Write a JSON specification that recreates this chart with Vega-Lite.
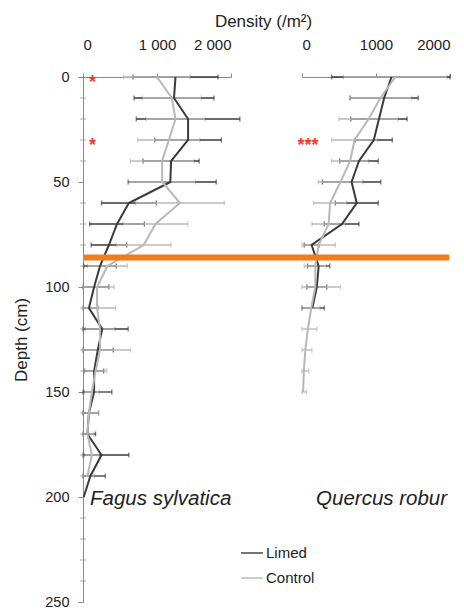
{
  "$schema": "https://vega.github.io/schema/vega-lite/v6.json",
  "background": "white",
  "padding": {"left": 12, "top": 13, "right": 0, "bottom": 0},
  "title": {"text": "Density (/m²)", "fontSize": 17, "font": "Liberation Sans", "fontWeight": "normal", "color": "#222", "anchor": "middle", "dx": 31, "offset": 6},
  "datasets": {
    "fagus": [
      {"depth": 0, "treatment": "Limed", "mean": 1250, "lo": 675, "hi": 1825},
      {"depth": 10, "treatment": "Limed", "mean": 1230, "lo": 690, "hi": 1770},
      {"depth": 20, "treatment": "Limed", "mean": 1420, "lo": 720, "hi": 2120},
      {"depth": 30, "treatment": "Limed", "mean": 1420, "lo": 970, "hi": 1870},
      {"depth": 40, "treatment": "Limed", "mean": 1190, "lo": 810, "hi": 1570},
      {"depth": 50, "treatment": "Limed", "mean": 1180, "lo": 610, "hi": 1800},
      {"depth": 60, "treatment": "Limed", "mean": 620, "lo": 250, "hi": 990},
      {"depth": 70, "treatment": "Limed", "mean": 460, "lo": 90, "hi": 830},
      {"depth": 80, "treatment": "Limed", "mean": 350, "lo": 110, "hi": 590},
      {"depth": 90, "treatment": "Limed", "mean": 230, "lo": 10, "hi": 450},
      {"depth": 100, "treatment": "Limed", "mean": 150, "lo": 0, "hi": 350},
      {"depth": 110, "treatment": "Limed", "mean": 80, "lo": 0, "hi": 200},
      {"depth": 120, "treatment": "Limed", "mean": 260, "lo": 0, "hi": 610},
      {"depth": 130, "treatment": "Limed", "mean": 200, "lo": 0, "hi": 410},
      {"depth": 140, "treatment": "Limed", "mean": 150, "lo": 20, "hi": 280},
      {"depth": 150, "treatment": "Limed", "mean": 150, "lo": 0, "hi": 390},
      {"depth": 160, "treatment": "Limed", "mean": 80, "lo": 0, "hi": 210},
      {"depth": 170, "treatment": "Limed", "mean": 60, "lo": 0, "hi": 170},
      {"depth": 180, "treatment": "Limed", "mean": 250, "lo": 0, "hi": 620},
      {"depth": 190, "treatment": "Limed", "mean": 100, "lo": 0, "hi": 300},
      {"depth": 200, "treatment": "Limed", "mean": 10, "lo": null, "hi": null},
      {"depth": 0, "treatment": "Control", "mean": 1000, "lo": 550, "hi": 1450},
      {"depth": 10, "treatment": "Control", "mean": 1200, "lo": 800, "hi": 1600},
      {"depth": 20, "treatment": "Control", "mean": 1250, "lo": 850, "hi": 1650},
      {"depth": 30, "treatment": "Control", "mean": 1160, "lo": 740, "hi": 1580},
      {"depth": 40, "treatment": "Control", "mean": 1070, "lo": 640, "hi": 1500},
      {"depth": 50, "treatment": "Control", "mean": 1070, "lo": 620, "hi": 1520},
      {"depth": 60, "treatment": "Control", "mean": 1310, "lo": 710, "hi": 1910},
      {"depth": 70, "treatment": "Control", "mean": 980, "lo": 540, "hi": 1420},
      {"depth": 80, "treatment": "Control", "mean": 820, "lo": 450, "hi": 1190},
      {"depth": 90, "treatment": "Control", "mean": 330, "lo": 60, "hi": 600},
      {"depth": 100, "treatment": "Control", "mean": 190, "lo": 0, "hi": 420},
      {"depth": 110, "treatment": "Control", "mean": 190, "lo": 0, "hi": 440},
      {"depth": 120, "treatment": "Control", "mean": 230, "lo": 30, "hi": 430},
      {"depth": 130, "treatment": "Control", "mean": 230, "lo": 0, "hi": 640},
      {"depth": 140, "treatment": "Control", "mean": 170, "lo": 20, "hi": 320},
      {"depth": 150, "treatment": "Control", "mean": 120, "lo": 20, "hi": 220},
      {"depth": 160, "treatment": "Control", "mean": 80, "lo": 0, "hi": 210},
      {"depth": 170, "treatment": "Control", "mean": 60, "lo": 0, "hi": 150},
      {"depth": 180, "treatment": "Control", "mean": 120, "lo": 20, "hi": 220},
      {"depth": 190, "treatment": "Control", "mean": 60, "lo": 0, "hi": 150}
    ],
    "quercus": [
      {"depth": 0, "treatment": "Limed", "mean": 1210, "lo": 400, "hi": 2000},
      {"depth": 10, "treatment": "Limed", "mean": 1110, "lo": 650, "hi": 1570},
      {"depth": 20, "treatment": "Limed", "mean": 1040, "lo": 660, "hi": 1420},
      {"depth": 30, "treatment": "Limed", "mean": 970, "lo": 720, "hi": 1220},
      {"depth": 40, "treatment": "Limed", "mean": 770, "lo": 510, "hi": 1030},
      {"depth": 50, "treatment": "Limed", "mean": 670, "lo": 275, "hi": 1065},
      {"depth": 60, "treatment": "Limed", "mean": 740, "lo": 450, "hi": 1030},
      {"depth": 70, "treatment": "Limed", "mean": 540, "lo": 300, "hi": 770},
      {"depth": 80, "treatment": "Limed", "mean": 130, "lo": 30, "hi": 230},
      {"depth": 90, "treatment": "Limed", "mean": 225, "lo": 75, "hi": 375},
      {"depth": 100, "treatment": "Limed", "mean": 200, "lo": 65, "hi": 335},
      {"depth": 110, "treatment": "Limed", "mean": 140, "lo": 0, "hi": 300},
      {"depth": 0, "treatment": "Control", "mean": 1260, "lo": 560, "hi": 1960},
      {"depth": 10, "treatment": "Control", "mean": 1060, "lo": 640, "hi": 1480},
      {"depth": 20, "treatment": "Control", "mean": 900, "lo": 500, "hi": 1300},
      {"depth": 30, "treatment": "Control", "mean": 710, "lo": 400, "hi": 1020},
      {"depth": 40, "treatment": "Control", "mean": 650, "lo": 400, "hi": 900},
      {"depth": 50, "treatment": "Control", "mean": 520, "lo": 220, "hi": 820},
      {"depth": 60, "treatment": "Control", "mean": 380, "lo": 155, "hi": 605},
      {"depth": 70, "treatment": "Control", "mean": 360, "lo": 135, "hi": 585},
      {"depth": 80, "treatment": "Control", "mean": 225, "lo": 0, "hi": 450},
      {"depth": 90, "treatment": "Control", "mean": 180, "lo": 30, "hi": 330},
      {"depth": 100, "treatment": "Control", "mean": 180, "lo": 0, "hi": 520},
      {"depth": 110, "treatment": "Control", "mean": 125, "lo": 5, "hi": 245},
      {"depth": 120, "treatment": "Control", "mean": 80, "lo": 0, "hi": 200},
      {"depth": 130, "treatment": "Control", "mean": 45, "lo": 0, "hi": 135},
      {"depth": 140, "treatment": "Control", "mean": 25, "lo": 0, "hi": 90},
      {"depth": 150, "treatment": "Control", "mean": 15, "lo": 0, "hi": 60}
    ],
    "minorTicks": [
      {"depth": 10}, {"depth": 20}, {"depth": 30}, {"depth": 40}, {"depth": 60}, {"depth": 70}, {"depth": 80}, {"depth": 90},
      {"depth": 110}, {"depth": 120}, {"depth": 130}, {"depth": 140}, {"depth": 160}, {"depth": 170}, {"depth": 180}, {"depth": 190},
      {"depth": 210}, {"depth": 220}, {"depth": 230}, {"depth": 240}
    ]
  },
  "spacing": 71,
  "bounds": "flush",
  "resolve": {"scale": {"color": "shared"}},
  "hconcat": [
    {
      "width": 148,
      "height": 525,
      "layer": [
        {
          "data": {"name": "fagus"},
          "transform": [{"filter": "datum.lo != null"}],
          "mark": {"type": "errorbar", "ticks": {"size": 5}, "thickness": 1.3},
          "encoding": {
            "x": {"field": "lo", "type": "quantitative", "scale": {"domain": [0, 2000], "nice": false}, "axis": {"orient": "top", "values": [0, 1000, 2000], "labelExpr": "datum.value == 0 ? '0' : datum.value == 1000 ? '1 000' : '2 000'", "title": null}},
            "x2": {"field": "hi"},
            "y": {"field": "depth", "type": "quantitative", "scale": {"domain": [0, 250], "reverse": true, "nice": false}, "axis": {"values": [0, 50, 100, 150, 200, 250], "labelFontSize": 14.5, "title": "Depth (cm)", "titleFontSize": 17, "labelPadding": 9, "titlePadding": 14, "tickSize": 5}},
            "color": {"field": "treatment", "type": "nominal", "scale": {"domain": ["Limed", "Control"], "range": ["#3a3a3a", "#b8b8b8"]}, "legend": {"orient": "none", "legendX": 157, "legendY": 464, "title": null, "symbolType": "stroke", "symbolStrokeWidth": 2, "symbolSize": 480, "labelFontSize": 15, "labelOffset": 2, "rowPadding": 5}}
          }
        },
        {
          "data": {"name": "minorTicks"},
          "mark": {"type": "tick", "orient": "horizontal", "size": 6, "thickness": 1, "color": "#888"},
          "encoding": {
            "x": {"datum": 0, "type": "quantitative"},
            "y": {"field": "depth", "type": "quantitative"}
          }
        },
        {
          "data": {"name": "fagus"},
          "mark": {"type": "line", "strokeWidth": 2},
          "encoding": {
            "x": {"field": "mean", "type": "quantitative"},
            "y": {"field": "depth", "type": "quantitative"},
            "order": {"field": "depth", "type": "quantitative"},
            "color": {"field": "treatment", "type": "nominal"}
          }
        },
        {
          "data": {"values": [{"x": 0, "x2": 2959, "depth": 86}]},
          "mark": {"type": "rule", "color": "#f07d1a", "strokeWidth": 6},
          "encoding": {
            "x": {"field": "x", "type": "quantitative"},
            "x2": {"field": "x2"},
            "y": {"field": "depth", "type": "quantitative"}
          }
        },
        {
          "data": {"values": [{"x": 130, "depth": 0, "label": "*"}, {"x": 130, "depth": 30, "label": "*"}]},
          "mark": {"type": "text", "color": "#f03c2a", "fontSize": 18, "fontWeight": "bold", "baseline": "middle", "dy": 6},
          "encoding": {
            "x": {"field": "x", "type": "quantitative"},
            "y": {"field": "depth", "type": "quantitative"},
            "text": {"field": "label"}
          }
        },
        {
          "data": {"values": [{"x": 95, "depth": 201, "label": "Fagus sylvatica"}]},
          "mark": {"type": "text", "align": "left", "baseline": "middle", "fontSize": 20.5, "fontStyle": "italic", "color": "#222"},
          "encoding": {
            "x": {"field": "x", "type": "quantitative"},
            "y": {"field": "depth", "type": "quantitative"},
            "text": {"field": "label"}
          }
        }
      ]
    },
    {
      "width": 148,
      "height": 525,
      "layer": [
        {
          "data": {"name": "quercus"},
          "mark": {"type": "errorbar", "ticks": {"size": 5}, "thickness": 1.3},
          "encoding": {
            "x": {"field": "lo", "type": "quantitative", "scale": {"domain": [0, 2000], "nice": false}, "axis": {"orient": "top", "values": [0, 1000, 2000], "format": "d", "title": null}},
            "x2": {"field": "hi"},
            "y": {"field": "depth", "type": "quantitative", "scale": {"domain": [0, 250], "reverse": true, "nice": false}, "axis": null},
            "color": {"field": "treatment", "type": "nominal"}
          }
        },
        {
          "data": {"name": "quercus"},
          "mark": {"type": "line", "strokeWidth": 2},
          "encoding": {
            "x": {"field": "mean", "type": "quantitative"},
            "y": {"field": "depth", "type": "quantitative"},
            "order": {"field": "depth", "type": "quantitative"},
            "color": {"field": "treatment", "type": "nominal"}
          }
        },
        {
          "data": {"values": [{"x": 0, "x2": 1990, "depth": 86}]},
          "mark": {"type": "rule", "color": "#f07d1a", "strokeWidth": 6},
          "encoding": {
            "x": {"field": "x", "type": "quantitative"},
            "x2": {"field": "x2"},
            "y": {"field": "depth", "type": "quantitative"}
          }
        },
        {
          "data": {"values": [{"x": 80, "depth": 30, "label": "***"}]},
          "mark": {"type": "text", "color": "#f03c2a", "fontSize": 18, "fontWeight": "bold", "baseline": "middle", "dy": 6},
          "encoding": {
            "x": {"field": "x", "type": "quantitative"},
            "y": {"field": "depth", "type": "quantitative"},
            "text": {"field": "label"}
          }
        },
        {
          "data": {"values": [{"x": 190, "depth": 201, "label": "Quercus robur"}]},
          "mark": {"type": "text", "align": "left", "baseline": "middle", "fontSize": 20.5, "fontStyle": "italic", "color": "#222"},
          "encoding": {
            "x": {"field": "x", "type": "quantitative"},
            "y": {"field": "depth", "type": "quantitative"},
            "text": {"field": "label"}
          }
        }
      ]
    }
  ],
  "config": {
    "font": "Liberation Sans",
    "view": {"stroke": null},
    "axis": {"grid": false, "domainColor": "#888", "tickColor": "#888", "labelColor": "#222", "labelFontSize": 13, "titleFontSize": 13, "titleFontWeight": "normal", "titleColor": "#222", "tickSize": 4},
    "axisX": {"labelPadding": 21, "labelFontSize": 15},
    "legend": {"labelColor": "#222"}
  }
}
